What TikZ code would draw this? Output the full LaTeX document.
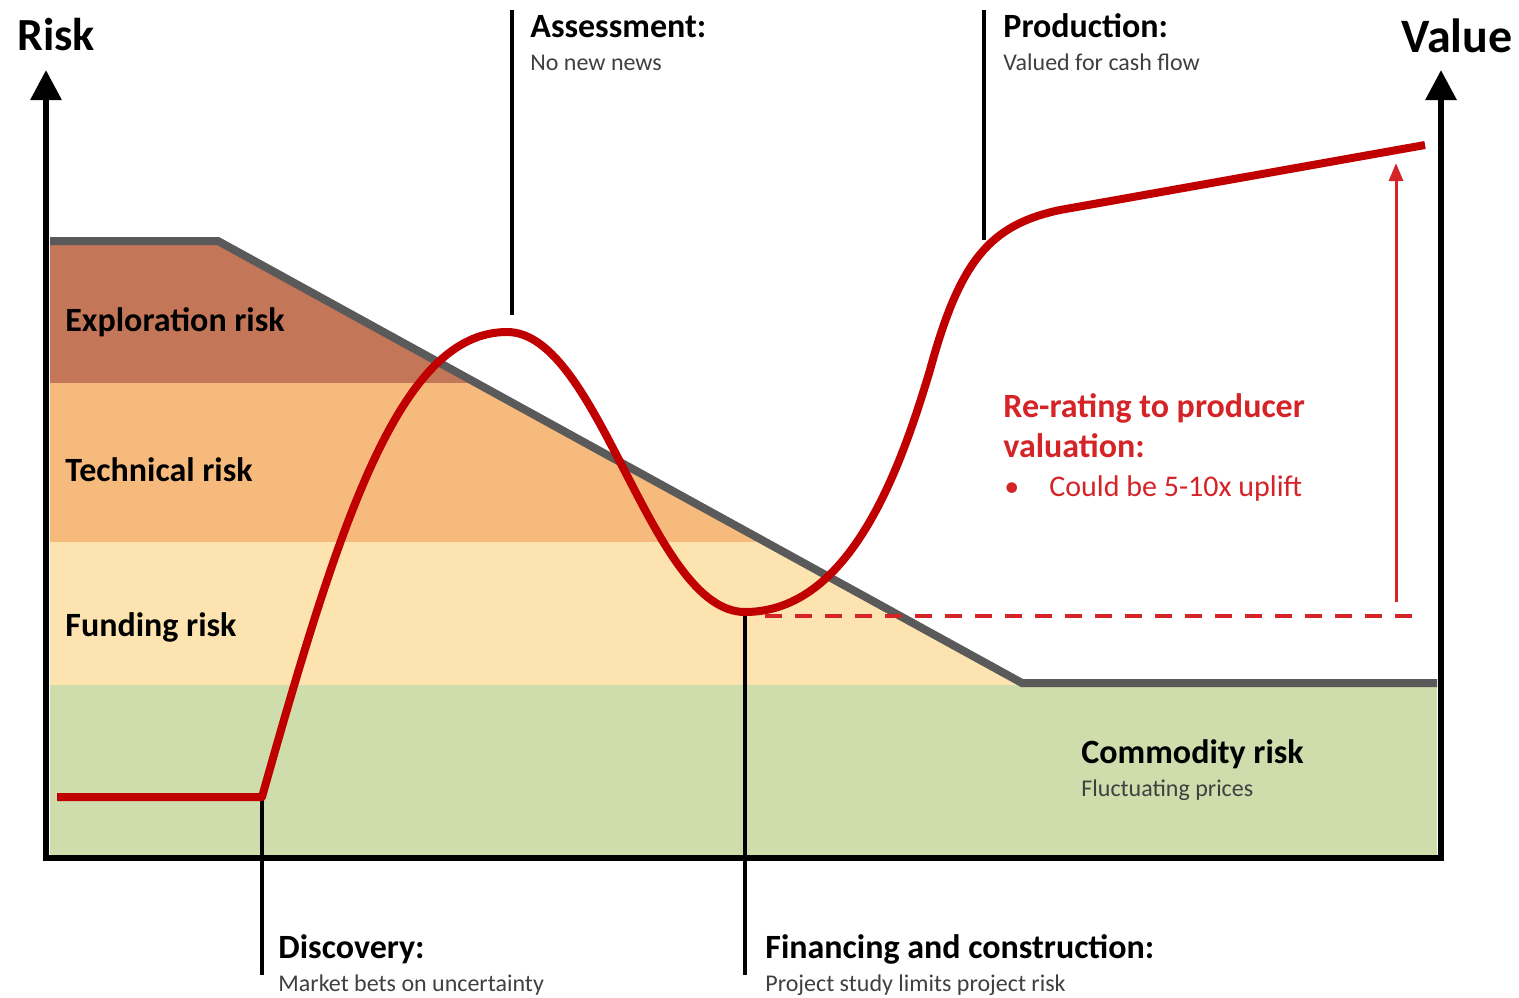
\documentclass[tikz,border=0pt]{standalone}
\usepackage{fontspec}
\setmainfont{Carlito}
\usetikzlibrary{arrows.meta}
\definecolor{explc}{RGB}{196,118,88}
\definecolor{techc}{RGB}{247,186,125}
\definecolor{fundc}{RGB}{253,227,175}
\definecolor{commc}{RGB}{206,221,171}
\definecolor{greyl}{RGB}{90,90,90}
\definecolor{curvec}{RGB}{192,0,0}
\definecolor{redtext}{RGB}{212,36,40}
\definecolor{subgray}{RGB}{64,64,64}
\tikzset{
  title/.style={anchor=base west, inner sep=0pt, font=\bfseries\fontsize{17}{20}\selectfont},
  subtitle/.style={anchor=base west, inner sep=0pt, font=\fontsize{12}{14}\selectfont, text=subgray},
  band/.style={anchor=base west, inner sep=0pt, font=\bfseries\fontsize{17}{20}\selectfont},
  marker/.style={line width=1.6pt, black},
  valuecurve/.style={line width=4pt, curvec, line join=round},
  axisline/.style={line width=3pt, black, line join=miter},
}
\begin{document}
\begin{tikzpicture}[x=0.5pt,y=-0.5pt]
\useasboundingbox (0,0) rectangle (1519,997);
% bands clipped under the risk line
\begin{scope}
\clip (50,241) -- (218,241) -- (1022,683) -- (1437,683) -- (1437,855) -- (50,855) -- cycle;
\fill[explc] (50,230) rectangle (1437,383);
\fill[techc] (50,383) rectangle (1437,542);
\fill[fundc] (50,542) rectangle (1437,685);
\fill[commc] (50,685) rectangle (1437,856);
\end{scope}
% risk line
\coordinate (r0) at (50,241);
\coordinate (r1) at (218,241);
\coordinate (r2) at (1022,683);
\coordinate (r3) at (1437,683);
\draw[greyl, line width=4pt, line join=miter] (r0) -- (r1) -- (r2) -- (r3);
% curve coordinates
\coordinate (c0) at (57,797);
\coordinate (c1) at (262,797);
\coordinate (peak) at (507,332);
\coordinate (trough) at (745,612);
\coordinate (c4) at (930,370);
\coordinate (c5) at (1060,210);
\coordinate (c6) at (1425,145);
% marker lines
\coordinate (discb) at (262,975);
\coordinate (asst) at (512,10);
\coordinate (assb) at (512,315);
\coordinate (prodt) at (984,10);
\coordinate (prodb) at (984,240);
\coordinate (finb) at (745,975);
\draw[marker] (c1) -- (discb);
\draw[marker] (asst) -- (assb);
\draw[marker] (prodt) -- (prodb);
\draw[marker] (trough) -- (finb);
% dashed level and re-rating arrow
\coordinate (d0) at (765,616);
\coordinate (d1) at (1415,616);
\draw[redtext, line width=2.2pt, dash pattern=on 8.5pt off 6.5pt] (d0) -- (d1);
\coordinate (a0) at (1396,602);
\coordinate (a1) at (1396,163);
\draw[redtext, line width=1.5pt, -{Triangle[width=7pt,length=9pt]}] (a0) -- (a1);
% value curve
\draw[valuecurve] (c0) -- (c1)
  .. controls (340,520) and (400,332) .. (peak)
  .. controls (600,332) and (650,612) .. (trough)
  .. controls (850,612) and (900,470) .. (c4)
  .. controls (960,260) and (990,225) .. (c5)
  -- (c6);
% axes
\coordinate (ltop) at (46,70);
\coordinate (lbot) at (46,858);
\coordinate (rbot) at (1441,858);
\coordinate (rtop) at (1441,70);
\draw[axisline, {Triangle[width=15pt,length=15pt]}-{Triangle[width=15pt,length=15pt]}] (ltop) -- (lbot) -- (rbot) -- (rtop);
% texts
\node[anchor=base west, inner sep=0pt, font=\bfseries\fontsize{23}{27}\selectfont] (risk) at (17,50) {Risk};
\node[anchor=base east, inner sep=0pt, font=\bfseries\fontsize{24}{28}\selectfont] (value) at (1513,52) {Value};
\node[title] (asst1) at (530,37) {Assessment:};
\node[subtitle] (asst2) at (530,70) {No new news};
\node[title] (prod1) at (1003,37) {Production:};
\node[subtitle] (prod2) at (1003,70) {Valued for cash flow};
\node[band] (expl) at (65,331) {Exploration risk};
\node[band] (tech) at (65,481) {Technical risk};
\node[band] (fund) at (65,636) {Funding risk};
\node[band] (comm1) at (1081,763) {Commodity risk};
\node[subtitle] (comm2) at (1081,796) {Fluctuating prices};
\node[title, text=redtext] (rr1) at (1003,417) {Re-rating to producer};
\node[title, text=redtext] (rr2) at (1003,457) {valuation:};
\node[anchor=base west, inner sep=0pt, text=redtext, font=\fontsize{15}{18}\selectfont] (bul) at (1004,496) {•};
\node[anchor=base west, inner sep=0pt, text=redtext, font=\fontsize{15}{18}\selectfont] (rr3) at (1049,496) {Could be 5-10x uplift};
\node[title] (disc1) at (278,958) {Discovery:};
\node[subtitle] (disc2) at (278,991) {Market bets on uncertainty};
\node[title] (fin1) at (765,958) {Financing and construction:};
\node[subtitle] (fin2) at (765,991) {Project study limits project risk};
\end{tikzpicture}
\end{document}
